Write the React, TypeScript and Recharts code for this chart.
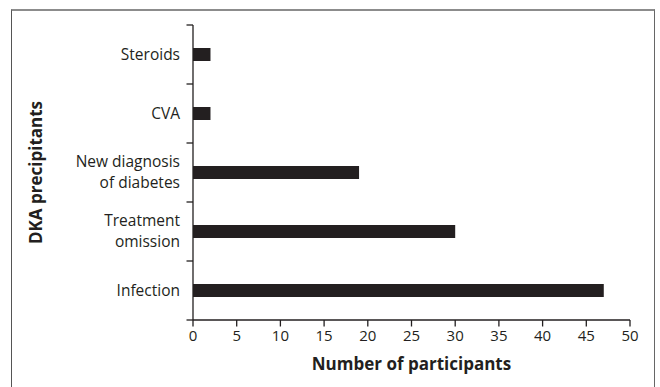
import React from 'react';
import { BarChart, Bar, XAxis, YAxis, Label } from 'recharts';

const categories = ['Steroids', 'CVA', 'New diagnosis of diabetes', 'Treatment omission', 'Infection'];
const categoryLines = [['Steroids'], ['CVA'], ['New diagnosis', 'of diabetes'], ['Treatment', 'omission'], ['Infection']];
const participants = [2, 2, 19, 30, 47];
const xTicks = [0, 5, 10, 15, 20, 25, 30, 35, 40, 45, 50];
const boundaryTicks = [0, 1, 2, 3, 4, 5];

const data = categories.map((c, i) => ({ name: c, value: participants[i], pos: i + 0.5 }));

const FONT = '"Open Sans", sans-serif';
const INK = '#231f20';

const CatTick = (props: any) => {
  const { x, y, payload } = props;
  const idx = categories.indexOf(payload.value);
  const lines = categoryLines[idx] || [payload.value];
  const lh = 20.5;
  const start = -((lines.length - 1) * lh) / 2 + 5;
  return (
    <text x={x} y={y} textAnchor="end" fill={INK} fontSize={15.5} fontFamily={FONT}>
      {lines.map((l: string, i: number) => (
        <tspan key={i} x={x} y={y + start + i * lh}>{l}</tspan>
      ))}
    </text>
  );
};

export default function App() {
  return (
    <div style={{ position: 'absolute', left: 0, top: 0, width: 660, height: 387, background: '#fff', overflow: 'hidden' }}>
      <div style={{ position: 'absolute', left: 11, top: 9, width: 642, height: 420, borderTop: '2px solid #8c8c8c', borderLeft: '1.5px solid #555', borderRight: '1.5px solid #666' }} />
      <div style={{ position: 'absolute', left: 0, top: 0 }}>
        <BarChart
          width={660}
          height={387}
          data={data}
          layout="vertical"
          margin={{ top: 25, right: 30, bottom: 17, left: 12 }}
          barCategoryGap={23}
        >
          <YAxis
            yAxisId="a"
            type="number"
            dataKey="pos"
            domain={[0, 5]}
            ticks={boundaryTicks}
            allowDataOverflow
            width={1}
            tickFormatter={() => ''}
            tickSize={6.5}
            axisLine={{ stroke: INK, strokeWidth: 1.3 }}
            tickLine={{ stroke: INK, strokeWidth: 1.3 }}
          />
          <YAxis
            yAxisId="b"
            type="category"
            dataKey="name"
            width={180}
            axisLine={false}
            tickLine={false}
            tickSize={6}
            tickMargin={6}
            tick={<CatTick />}
            interval={0}
          >
            <Label
              value="DKA precipitants"
              angle={-90}
              position="insideLeft"
              offset={24}
              style={{ textAnchor: 'middle', fontFamily: FONT, fontWeight: 700, fontSize: 17, fill: INK }}
            />
          </YAxis>
          <XAxis
            type="number"
            domain={[0, 50]}
            ticks={xTicks}
            interval={0}
            height={50}
            tickSize={6.5}
            tickMargin={4}
            axisLine={{ stroke: INK, strokeWidth: 1.3 }}
            tickLine={{ stroke: INK, strokeWidth: 1.3 }}
            tick={{ fill: INK, fontSize: 15, fontFamily: FONT }}
          >
            <Label
              value="Number of participants"
              position="insideBottom"
              offset={0}
              style={{ fontFamily: FONT, fontWeight: 700, fontSize: 17, fill: INK }}
            />
          </XAxis>
          <Bar yAxisId="b" dataKey="value" fill={INK} barSize={13} isAnimationActive={false} />
        </BarChart>
      </div>
    </div>
  );
}
